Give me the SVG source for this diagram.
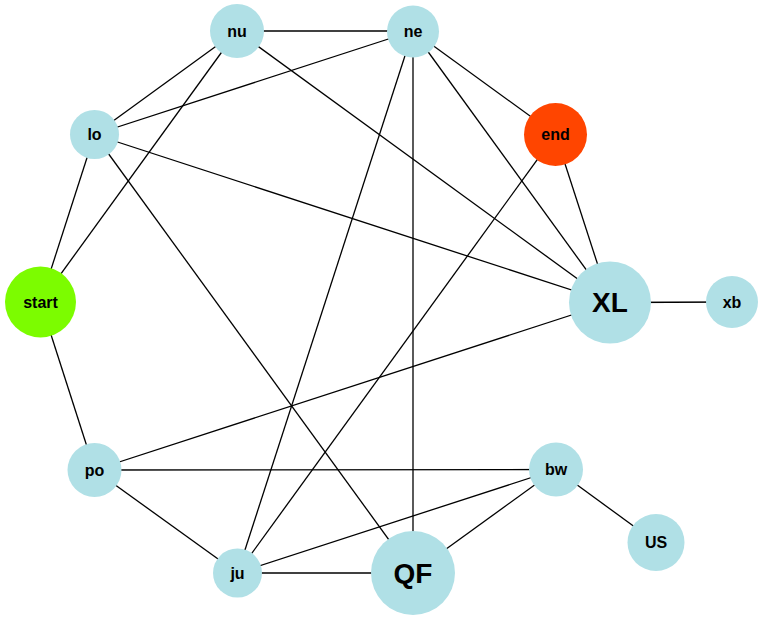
<svg xmlns="http://www.w3.org/2000/svg" width="763" height="620" viewBox="0 0 763 620">
<style>
.e{stroke:#000;stroke-width:1.3;fill:none}
.n{fill:#b0e0e6}
.t{font-family:"Liberation Sans",Arial,sans-serif;font-weight:bold;font-size:16px;text-anchor:middle;dominant-baseline:central;fill:#000}
.b{font-size:28px}
</style>
<rect width="763" height="620" fill="#fff"/>
<g id="edges">
<line class="e" x1="237" y1="31" x2="413" y2="31"/>
<line class="e" x1="237" y1="31" x2="94.5" y2="134.5"/>
<line class="e" x1="237" y1="31" x2="40.5" y2="302"/>
<line class="e" x1="237" y1="31" x2="610" y2="302.5"/>
<line class="e" x1="413" y1="31" x2="94.5" y2="134.5"/>
<line class="e" x1="413" y1="31" x2="555.5" y2="134.5"/>
<line class="e" x1="413" y1="31" x2="610" y2="302.5"/>
<line class="e" x1="413" y1="31" x2="237.5" y2="573"/>
<line class="e" x1="413" y1="31" x2="413" y2="573"/>
<line class="e" x1="94.5" y1="134.5" x2="40.5" y2="302"/>
<line class="e" x1="94.5" y1="134.5" x2="610" y2="302.5"/>
<line class="e" x1="94.5" y1="134.5" x2="413" y2="573"/>
<line class="e" x1="555.5" y1="134.5" x2="610" y2="302.5"/>
<line class="e" x1="555.5" y1="134.5" x2="237.5" y2="573"/>
<line class="e" x1="40.5" y1="302" x2="94.5" y2="470"/>
<line class="e" x1="610" y1="302.5" x2="732" y2="302"/>
<line class="e" x1="610" y1="302.5" x2="94.5" y2="470"/>
<line class="e" x1="94.5" y1="470" x2="556" y2="469.5"/>
<line class="e" x1="94.5" y1="470" x2="237.5" y2="573"/>
<line class="e" x1="237.5" y1="573" x2="413" y2="573"/>
<line class="e" x1="237.5" y1="573" x2="556" y2="469.5"/>
<line class="e" x1="413" y1="573" x2="556" y2="469.5"/>
<line class="e" x1="556" y1="469.5" x2="656" y2="542.5"/>
</g>
<g id="nu"><circle class="n" cx="237" cy="31" r="27"/><text class="t" x="237" y="31">nu</text></g>
<g id="ne"><circle class="n" cx="413" cy="31.5" r="26"/><text class="t" x="413" y="31.5">ne</text></g>
<g id="lo"><circle class="n" cx="94.5" cy="134.5" r="24.5"/><text class="t" x="94.5" y="134.5">lo</text></g>
<g id="end"><circle cx="555.5" cy="134.5" r="31.5" fill="#ff4500"/><text class="t" x="555.5" y="134.5">end</text></g>
<g id="start"><circle cx="40.5" cy="302" r="35.5" fill="#7cfc00"/><text class="t" x="40.5" y="302">start</text></g>
<g id="XL"><circle class="n" cx="610" cy="302.5" r="41"/><text class="t b" x="610" y="302.5">XL</text></g>
<g id="xb"><circle class="n" cx="732" cy="302" r="26"/><text class="t" x="732" y="302">xb</text></g>
<g id="po"><circle class="n" cx="94.5" cy="470" r="27"/><text class="t" x="94.5" y="470">po</text></g>
<g id="bw"><circle class="n" cx="556" cy="469.5" r="27"/><text class="t" x="556" y="469.5">bw</text></g>
<g id="US"><circle class="n" cx="656" cy="542.5" r="28.5"/><text class="t" x="656" y="542.5">US</text></g>
<g id="ju"><circle class="n" cx="237.5" cy="573" r="24.5"/><text class="t" x="237.5" y="573">ju</text></g>
<g id="QF"><circle class="n" cx="413" cy="573" r="42"/><text class="t b" x="413" y="573">QF</text></g>
</svg>
